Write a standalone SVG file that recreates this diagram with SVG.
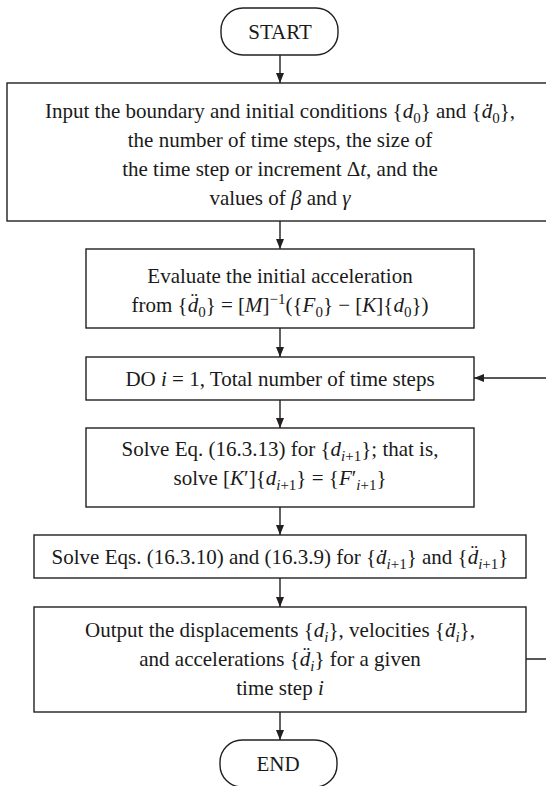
<svg xmlns="http://www.w3.org/2000/svg" width="546" height="786" viewBox="0 0 546 786">
<style>
.box{fill:#fff;stroke:#231f20;stroke-width:1.4}
.con{fill:none;stroke:#231f20;stroke-width:1.4}
text{font-family:"Liberation Serif","Times New Roman",serif;font-size:21px;fill:#1a1a1a;text-anchor:middle}
.i{font-style:italic}
.s{font-size:15px}
</style>
<defs>
<marker id="arr" markerUnits="userSpaceOnUse" markerWidth="10" markerHeight="8" refX="10" refY="4" orient="auto">
<path d="M0,0 L10,4 L0,8 z" fill="#231f20"/>
</marker>
</defs>
<rect width="546" height="786" fill="#fff"/>
<g id="connectors">
<line class="con" x1="280" y1="55" x2="280" y2="83" marker-end="url(#arr)"/>
<line class="con" x1="280" y1="221" x2="280" y2="249" marker-end="url(#arr)"/>
<line class="con" x1="280" y1="328" x2="280" y2="357" marker-end="url(#arr)"/>
<line class="con" x1="280" y1="400" x2="280" y2="428" marker-end="url(#arr)"/>
<line class="con" x1="280" y1="507" x2="280" y2="535" marker-end="url(#arr)"/>
<line class="con" x1="280" y1="578" x2="280" y2="607" marker-end="url(#arr)"/>
<line class="con" x1="280" y1="712" x2="280" y2="740" marker-end="url(#arr)"/>
<path class="con" d="M526,659 H560 V378 H474" marker-end="url(#arr)"/>
</g>
<g id="start">
<rect class="box" x="221" y="8" width="117" height="47" rx="22" ry="22"/>
<text x="280" y="39">START</text>
</g>
<g id="input">
<rect class="box" x="7" y="83" width="546" height="138"/>
<text x="280" y="118">Input the boundary and initial conditions {<tspan class="i">d</tspan><tspan class="s" dy="5">0</tspan><tspan dy="-5">} and {</tspan><tspan class="i">d&#x307;</tspan><tspan class="s" dy="5">0</tspan><tspan dy="-5">},</tspan></text>
<text x="280" y="147">the number of time steps, the size of</text>
<text x="280" y="176">the time step or increment Δ<tspan class="i">t</tspan>, and the</text>
<text x="280" y="205">values of <tspan class="i">β</tspan> and <tspan class="i">γ</tspan></text>
</g>
<g id="evaluate">
<rect class="box" x="86" y="249" width="388" height="79"/>
<text x="280" y="283">Evaluate the initial acceleration</text>
<text x="280" y="312">from {<tspan class="i">d&#x308;</tspan><tspan class="s" dy="5">0</tspan><tspan dy="-5">} = [</tspan><tspan class="i">M</tspan><tspan>]</tspan><tspan class="s" dy="-8">−1</tspan><tspan dy="8">({</tspan><tspan class="i">F</tspan><tspan class="s" dy="5">0</tspan><tspan dy="-5">} − [</tspan><tspan class="i">K</tspan><tspan>]{</tspan><tspan class="i">d</tspan><tspan class="s" dy="5">0</tspan><tspan dy="-5">})</tspan></text>
</g>
<g id="do">
<rect class="box" x="86" y="357" width="388" height="43"/>
<text x="280" y="386">DO <tspan class="i">i</tspan> = 1, Total number of time steps</text>
</g>
<g id="solve1">
<rect class="box" x="86" y="428" width="388" height="79"/>
<text x="280" y="456">Solve Eq. (16.3.13) for {<tspan class="i">d</tspan><tspan class="s" dy="5"><tspan class="i">i</tspan>+1</tspan><tspan dy="-5">}; that is,</tspan></text>
<text x="280" y="485">solve [<tspan class="i">K</tspan>′]{<tspan class="i">d</tspan><tspan class="s" dy="5"><tspan class="i">i</tspan>+1</tspan><tspan dy="-5">} = {</tspan><tspan class="i">F</tspan><tspan>′</tspan><tspan class="s" dy="5"><tspan class="i">i</tspan>+1</tspan><tspan dy="-5">}</tspan></text>
</g>
<g id="solve2">
<rect class="box" x="34" y="535" width="492" height="43"/>
<text x="280" y="564">Solve Eqs. (16.3.10) and (16.3.9) for {<tspan class="i">d&#x307;</tspan><tspan class="s" dy="5"><tspan class="i">i</tspan>+1</tspan><tspan dy="-5">} and {</tspan><tspan class="i">d&#x308;</tspan><tspan class="s" dy="5"><tspan class="i">i</tspan>+1</tspan><tspan dy="-5">}</tspan></text>
</g>
<g id="output">
<rect class="box" x="34" y="607" width="492" height="105"/>
<text x="280" y="637">Output the displacements {<tspan class="i">d</tspan><tspan class="s i" dy="5">i</tspan><tspan dy="-5">}, velocities {</tspan><tspan class="i">d&#x307;</tspan><tspan class="s i" dy="5">i</tspan><tspan dy="-5">},</tspan></text>
<text x="280" y="666">and accelerations {<tspan class="i">d&#x308;</tspan><tspan class="s i" dy="5">i</tspan><tspan dy="-5">} for a given</tspan></text>
<text x="280" y="695">time step <tspan class="i">i</tspan></text>
</g>
<g id="end">
<rect class="box" x="220" y="740" width="117" height="47" rx="22" ry="22"/>
<text x="278" y="771">END</text>
</g>
</svg>
